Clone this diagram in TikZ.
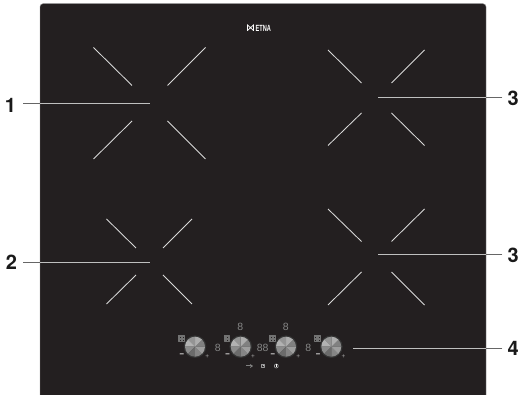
\documentclass[tikz,border=0pt]{standalone}
\usepackage{fontspec}
\setmainfont{Liberation Sans}
\newfontfamily\calloutfont{TeX Gyre Heros}
\usetikzlibrary{arrows.meta,calc}

\begin{document}
\begin{tikzpicture}[x=1pt,y=-1pt,>=Stealth,line cap=butt,line join=round,
    zoneline/.style={line width=.85pt,draw=white!85!black},
    leaderin/.style={line width=1pt,draw=white!75!black},
    leaderout/.style={line width=1pt,draw=black!60},
    callout/.style={font=\calloutfont\bfseries\fontsize{20}{20}\selectfont,text=black!90,inner sep=0pt,minimum height=14pt},
    readout/.style={font=\fontsize{10.5}{10.5}\selectfont,text=black!48,inner sep=0pt}]
    \useasboundingbox (0,0) rectangle (520,395);
    \definecolor{glass}{HTML}{231F20}

    % Glass panel, running off the bottom of the picture.
    \fill[glass,draw=black!45,line width=.4pt,rounded corners=3pt]
      (40,3.7) rectangle (486,399);

    % Cross marks of the four cooking zones: x left/right, then y
    % outer/inner for the upper and lower pairs.
    \foreach \xa/\xb/\xc/\xd/\ya/\yb/\yc/\yd in
      {93.5/132/167.5/205.5/47.5/85.5/121/159,
       106.5/136/163/192/219/248/275/304,
       328/361.5/391.5/424.5/50/83/113/145.5,
       328/361.5/391.5/424.5/209/241.5/272/305} {
      \draw[zoneline] (\xa,\ya) -- (\xb,\yb);
      \draw[zoneline] (\xd,\ya) -- (\xc,\yb);
      \draw[zoneline] (\xa,\yd) -- (\xb,\yc);
      \draw[zoneline] (\xd,\yd) -- (\xc,\yc);
    }

    % Callouts and their leaders, which change colour at the panel edge.
    \node[callout,minimum width=25pt] (labela) at (10.5,105) {1};
    \node[callout,minimum width=23pt] (labelb) at (11.5,262.5) {2};
    \node[callout,minimum width=21.6pt] (labelc) at (513.3,98) {3};
    \node[callout,minimum width=21.6pt] (labeld) at (513.3,255) {3};
    \node[callout,minimum width=21.6pt] (labele) at (513.3,348.5) {4};
    \coordinate (zonea) at (150,104);
    \coordinate (zoneb) at (150,262.5);
    \coordinate (zonec) at (377.5,98);
    \coordinate (zoned) at (377.5,255);
    \coordinate (knobedge) at (353,348.5);
    \coordinate (edgea) at (40,104);
    \coordinate (edgeb) at (40,262.5);
    \coordinate (edgec) at (486,98);
    \coordinate (edged) at (486,255);
    \coordinate (edgee) at (486,348.5);
    \draw[leaderout] (labela.east |- edgea) -- (edgea);
    \draw[leaderout] (labelb.east |- edgeb) -- (edgeb);
    \draw[leaderout] (labelc.west |- edgec) -- (edgec);
    \draw[leaderout] (labeld.west |- edged) -- (edged);
    \draw[leaderout] (labele.west |- edgee) -- (edgee);
    \draw[leaderin] (edgea) -- (zonea);
    \draw[leaderin] (edgeb) -- (zoneb);
    \draw[leaderin] (edgec) -- (zonec);
    \draw[leaderin] (edged) -- (zoned);
    \draw[leaderin] (edgee) -- (knobedge);

    % Maker's mark.
    \draw[white,line width=.8pt] (247.5,24.5) -- (247.5,31) (253.5,24.5) -- (253.5,31)
      (247.5,25) -- (253.5,30.5) (253.5,25) -- (247.5,30.5);
    \node[font=\bfseries\fontsize{5.6}{5.6}\selectfont,text=white,inner sep=0pt,
      yscale=1.6,transform shape] (logo) at (263.3,28) {ETNA};

    % Control knobs with their heat icons and minus/plus signs.
    \foreach \kx in {195,240.7,286,331.3} {
      \fill[black!80!white] (\kx,346.7) circle (11.3pt);
      \foreach \a/\s in {0/50,45/32,90/42,135/30,180/45,225/58,270/48,315/38}
        \fill[black!\s] (\kx,346.7) -- +(\a:10pt)
          arc[start angle=\a,end angle=\a+45,radius=10pt] -- cycle;
      \draw[black!55,line width=.5pt] (\kx-16.8,335.2) rectangle (\kx-11.2,340.8);
      \foreach \d in {1.4,2.8,4.2} {
        \draw[black!55,line width=.5pt] (\kx-16.8+\d,335.2) -- (\kx-16.8+\d,340.8);
        \draw[black!55,line width=.5pt] (\kx-16.8,335.2+\d) -- (\kx-11.2,335.2+\d);
      }
      \node[font=\bfseries\fontsize{8}{8}\selectfont,text=white,inner sep=0pt]
        at (\kx-13.2,355.6) {–};
      \node[font=\fontsize{6.5}{6.5}\selectfont,text=black!35,inner sep=0pt]
        at (\kx+12.2,356.3) {+};
    }

    % Timer and zone read-outs.
    \node[readout] (reada) at (217.7,347.7) {8};
    \node[readout] (readb) at (240.3,327.3) {8};
    \node[readout] (readc) at (262.7,347.7) {88};
    \node[readout] (readd) at (285.7,327.3) {8};
    \node[readout] (reade) at (308.3,347.7) {8};

    % Small touch symbols under the knobs.
    \draw[->,black!50,line width=1pt,>={Stealth[length=3pt,width=4pt]}] (246,366) -- (253,366);
    \draw[black!40,line width=.7pt] (261.2,364.2) rectangle (264.8,367.8);
    \fill[black!25] (263.4,365.5) circle (.8pt);
    \draw[black!40,line width=.7pt] (276.3,366) circle (2pt);
    \draw[white,line width=.8pt] (276.3,364.5) -- (276.3,367.5);
\end{tikzpicture}
\end{document}
